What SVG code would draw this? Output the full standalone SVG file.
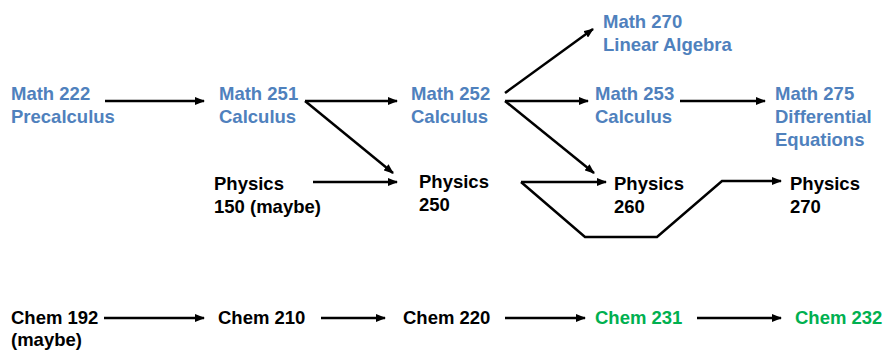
<svg xmlns="http://www.w3.org/2000/svg" width="885" height="350" viewBox="0 0 885 350">
<style>
text{font-family:"Liberation Sans",Arial,sans-serif;font-weight:bold;font-size:18.5px}
.m{fill:#4F81BD}
.b{fill:#000}
.g{fill:#00B050}
.c{stroke:#000;stroke-width:2.5;fill:none}
</style>
<defs>
<marker id="ah" markerWidth="10" markerHeight="8" refX="9" refY="4" orient="auto" markerUnits="userSpaceOnUse">
<path d="M0,0 L10,4 L0,8 Z" fill="#000"/>
</marker>
</defs>
<rect width="885" height="350" fill="#fff"/>
<g id="math222"><text class="m" x="11" y="100">Math 222</text><text class="m" x="11" y="123">Precalculus</text></g>
<g id="math251"><text class="m" x="219" y="100">Math 251</text><text class="m" x="219" y="123">Calculus</text></g>
<g id="math252"><text class="m" x="411" y="100">Math 252</text><text class="m" x="411" y="123">Calculus</text></g>
<g id="math270"><text class="m" x="603" y="28">Math 270</text><text class="m" x="603" y="51">Linear Algebra</text></g>
<g id="math253"><text class="m" x="595" y="100">Math 253</text><text class="m" x="595" y="123">Calculus</text></g>
<g id="math275"><text class="m" x="775" y="100">Math 275</text><text class="m" x="775" y="123">Differential</text><text class="m" x="775" y="146">Equations</text></g>
<g id="phys150"><text class="b" x="214" y="190">Physics</text><text class="b" x="214" y="213">150 (maybe)</text></g>
<g id="phys250"><text class="b" x="419" y="188">Physics</text><text class="b" x="419" y="211">250</text></g>
<g id="phys260"><text class="b" x="614" y="190">Physics</text><text class="b" x="614" y="213">260</text></g>
<g id="phys270"><text class="b" x="790" y="190">Physics</text><text class="b" x="790" y="213">270</text></g>
<g id="chem192"><text class="b" x="11" y="324">Chem 192</text><text class="b" x="11" y="346">(maybe)</text></g>
<g id="chem210"><text class="b" x="218" y="324">Chem 210</text></g>
<g id="chem220"><text class="b" x="403" y="324">Chem 220</text></g>
<g id="chem231"><text class="g" x="595" y="324">Chem 231</text></g>
<g id="chem232"><text class="g" x="795" y="324">Chem 232</text></g>
<g id="connectors">
<line class="c" x1="105" y1="101" x2="204" y2="101" marker-end="url(#ah)"/>
<line class="c" x1="305" y1="101" x2="397" y2="101" marker-end="url(#ah)"/>
<line class="c" x1="305" y1="101" x2="393" y2="173" marker-end="url(#ah)"/>
<line class="c" x1="313" y1="182" x2="397" y2="182" marker-end="url(#ah)"/>
<line class="c" x1="505" y1="93" x2="593" y2="29" marker-end="url(#ah)"/>
<line class="c" x1="505" y1="101" x2="588" y2="101" marker-end="url(#ah)"/>
<line class="c" x1="505" y1="101" x2="594" y2="173" marker-end="url(#ah)"/>
<line class="c" x1="680" y1="101" x2="765" y2="101" marker-end="url(#ah)"/>
<polyline class="c" points="521,182 606,182" marker-end="url(#ah)"/>
<polyline class="c" points="521,182 585,237 657,237 722,181 781,181" marker-end="url(#ah)"/>
<line class="c" x1="104" y1="318" x2="204" y2="318" marker-end="url(#ah)"/>
<line class="c" x1="321" y1="318" x2="385" y2="318" marker-end="url(#ah)"/>
<line class="c" x1="505" y1="318" x2="585" y2="318" marker-end="url(#ah)"/>
<line class="c" x1="697" y1="318" x2="781" y2="318" marker-end="url(#ah)"/>
</g>
</svg>
